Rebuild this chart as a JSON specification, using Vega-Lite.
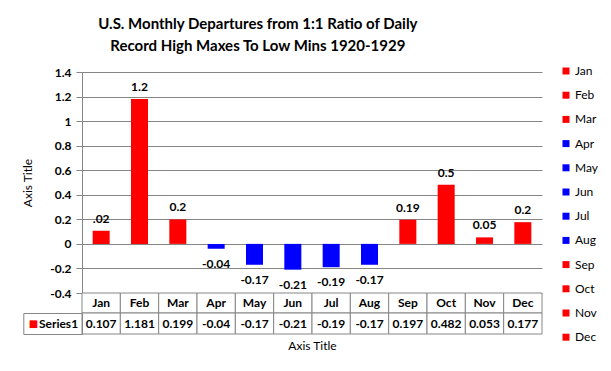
{
  "$schema": "https://vega.github.io/schema/vega-lite/v6.json",
  "padding": {"left": 21, "top": 16, "right": 5, "bottom": 5},
  "datasets": {
    "d": [
      {"month": "Jan", "value": 0.107, "label": ".02"},
      {"month": "Feb", "value": 1.181, "label": "1.2"},
      {"month": "Mar", "value": 0.199, "label": "0.2"},
      {"month": "Apr", "value": -0.04, "label": "-0.04"},
      {"month": "May", "value": -0.17, "label": "-0.17"},
      {"month": "Jun", "value": -0.21, "label": "-0.21"},
      {"month": "Jul", "value": -0.19, "label": "-0.19"},
      {"month": "Aug", "value": -0.17, "label": "-0.17"},
      {"month": "Sep", "value": 0.197, "label": "0.19"},
      {"month": "Oct", "value": 0.482, "label": "0.5"},
      {"month": "Nov", "value": 0.053, "label": "0.05"},
      {"month": "Dec", "value": 0.177, "label": "0.2"}
    ]
  },
  "title": {
    "text": ["U.S. Monthly Departures from 1:1 Ratio of Daily", "Record High Maxes To Low Mins 1920-1929"],
    "font": "Lato", "fontSize": 15, "fontWeight": "bold", "lineHeight": 22.5,
    "anchor": "middle", "offset": 11, "dx": -52, "color": "black"
  },
  "spacing": 0,
  "bounds": "flush",
  "resolve": {"scale": {"x": "independent", "y": "independent"}},
  "vconcat": [
    {
      "width": 460, "height": 221,
      "data": {"name": "d"},
      "encoding": {
        "x": {"field": "month", "type": "nominal", "sort": ["Jan","Feb","Mar","Apr","May","Jun","Jul","Aug","Sep","Oct","Nov","Dec"],
              "scale": {"paddingInner": 0.556, "paddingOuter": 0.278}, "axis": null}
      },
      "layer": [
        {
          "mark": {"type": "bar"},
          "encoding": {
            "y": {"field": "value", "type": "quantitative",
                  "scale": {"domain": [-0.4, 1.4], "nice": false, "zero": false},
                  "axis": {"title": "Axis Title", "titleFont": "Lato", "titleFontSize": 12, "titleFontWeight": "normal", "titleColor": "black", "titlePadding": 15,
                           "values": [-0.4, -0.2, 0, 0.2, 0.4, 0.6, 0.8, 1, 1.2, 1.4], "tickCount": 20, "labelOverlap": false,
                           "labelExpr": "'' + datum.value",
                           "labelFont": "Lato", "labelFontWeight": "bold", "labelFontSize": 12, "labelColor": "black", "labelPadding": 5,
                           "tickSize": 6, "tickColor": "#868686", "domainColor": "#868686", "grid": true, "gridColor": "#868686"}},
            "color": {"field": "month", "type": "nominal",
                      "scale": {"domain": ["Jan","Feb","Mar","Apr","May","Jun","Jul","Aug","Sep","Oct","Nov","Dec"],
                                "range": ["#ff0000","#ff0000","#ff0000","#0000ff","#0000ff","#0000ff","#0000ff","#0000ff","#ff0000","#ff0000","#ff0000","#ff0000"]},
                      "legend": {"title": null, "orient": "none", "legendX": 478, "legendY": -7, "symbolType": "square", "symbolSize": 49, "symbolStrokeWidth": 0,
                                 "labelFont": "Lato", "labelFontSize": 12, "labelColor": "black", "rowPadding": 12.2, "labelOffset": 3}}
          }
        },
        {
          "transform": [{"filter": "datum.value >= 0"}],
          "mark": {"type": "text", "baseline": "alphabetic", "dy": -8, "font": "Lato", "fontWeight": "bold", "fontSize": 12, "color": "black"},
          "encoding": {"y": {"field": "value", "type": "quantitative"}, "text": {"field": "label"}}
        },
        {
          "transform": [{"filter": "datum.value < 0"}],
          "mark": {"type": "text", "baseline": "top", "dy": 10, "font": "Lato", "fontWeight": "bold", "fontSize": 12, "color": "black"},
          "encoding": {"y": {"field": "value", "type": "quantitative"}, "text": {"field": "label"}}
        }
      ]
    },
    {
      "width": 460, "height": 20,
      "data": {"name": "d"},
      "encoding": {
        "x": {"field": "month", "type": "nominal", "sort": ["Jan","Feb","Mar","Apr","May","Jun","Jul","Aug","Sep","Oct","Nov","Dec"],
              "scale": {"paddingInner": 0, "paddingOuter": 0}, "axis": null}
      },
      "layer": [
        {"mark": {"type": "rect", "fill": "white", "stroke": "#868686", "strokeWidth": 1}},
        {"mark": {"type": "text", "font": "Lato", "fontWeight": "bold", "fontSize": 12, "color": "black", "baseline": "middle"},
         "encoding": {"text": {"field": "month"}}}
      ]
    },
    {
      "width": 460, "height": 21,
      "data": {"name": "d"},
      "encoding": {
        "x": {"field": "month", "type": "nominal", "sort": ["Jan","Feb","Mar","Apr","May","Jun","Jul","Aug","Sep","Oct","Nov","Dec"],
              "scale": {"paddingInner": 0, "paddingOuter": 0},
              "axis": {"title": "Axis Title", "labels": false, "ticks": false, "domain": false, "titleFont": "Lato", "titleFontSize": 12, "titleFontWeight": "normal", "titleColor": "black", "titlePadding": 6}}
      },
      "layer": [
        {
          "mark": {"type": "rect", "fill": "white", "stroke": "#868686", "strokeWidth": 1},
          "encoding": {
            "y": {"datum": "Series1", "type": "nominal", "scale": {"domain": ["Series1"], "paddingInner": 0, "paddingOuter": 0},
                  "axis": {"title": null, "labelFont": "Lato", "labelFontWeight": "bold", "labelFontSize": 12, "labelColor": "black",
                           "tickBand": "extent", "tickSize": 58.7, "tickColor": "#868686", "domainColor": "#868686", "labelPadding": -54.3}}
          }
        },
        {
          "mark": {"type": "text", "font": "Lato", "fontWeight": "bold", "fontSize": 12, "color": "black", "baseline": "middle"},
          "encoding": {
            "y": {"datum": "Series1", "type": "nominal", "scale": {"domain": ["Series1"], "paddingInner": 0, "paddingOuter": 0},
                  "axis": {"title": null, "orient": "left", "offset": 58.7, "domain": true, "domainColor": "#868686", "ticks": false, "tickSize": 0,
                           "labelExpr": "'■'", "labelColor": "#ff0000", "labelFont": "DejaVu Sans", "labelFontSize": 10, "labelAlign": "left", "labelPadding": -5}},
            "text": {"field": "value", "type": "nominal"}
          }
        }
      ],
      "resolve": {"scale": {"y": "independent"}, "axis": {"y": "independent"}}
    }
  ],
  "config": {"view": {"stroke": null}, "font": "Lato"}
}
